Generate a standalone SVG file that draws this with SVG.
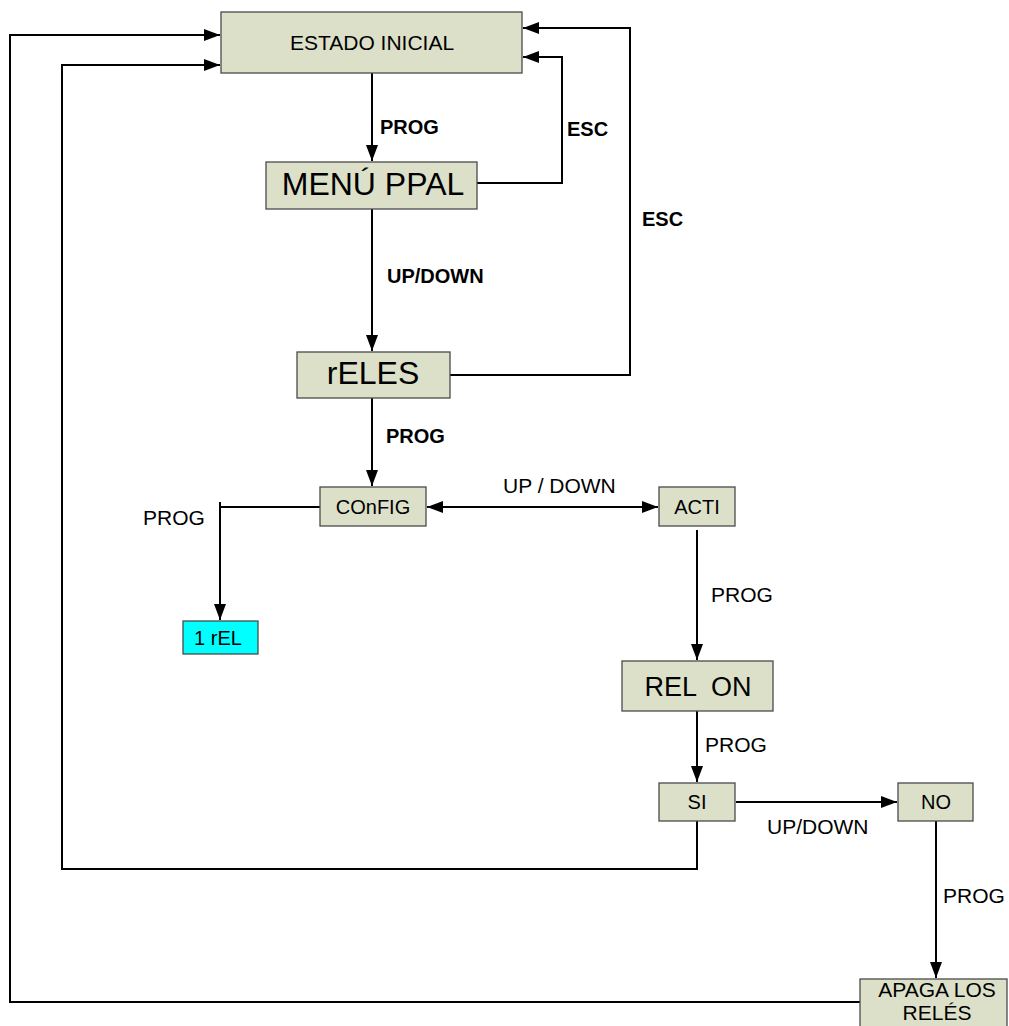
<svg xmlns="http://www.w3.org/2000/svg" width="1009" height="1026" viewBox="0 0 1009 1026">
<style>
.box{fill:#DDE0C9;stroke:#4a4a4a;stroke-width:1.3}
.t{font-family:"Liberation Sans",Arial,sans-serif;fill:#000;text-anchor:middle}
.lb{font-family:"Liberation Sans",Arial,sans-serif;font-weight:bold;font-size:20px;fill:#000}
.lr{font-family:"Liberation Sans",Arial,sans-serif;font-size:21px;fill:#000}
.c{fill:none;stroke:#000;stroke-width:2}
</style>
<defs>
<marker id="a" markerWidth="16" markerHeight="12" refX="16" refY="6" orient="auto" markerUnits="userSpaceOnUse">
<path d="M0,0 L16,6 L0,12 Z" fill="#000"/>
</marker>
<marker id="s" markerWidth="16" markerHeight="12" refX="0" refY="6" orient="auto" markerUnits="userSpaceOnUse">
<path d="M16,0 L0,6 L16,12 Z" fill="#000"/>
</marker>
</defs>
<rect width="1009" height="1026" fill="#fff"/>
<g id="connectors">
<path class="c" d="M860,1002 H10 V35 H220" marker-end="url(#a)"/>
<path class="c" d="M697,821 V869 H62 V65 H220" marker-end="url(#a)"/>
<path class="c" d="M372,73 V161" marker-end="url(#a)"/>
<path class="c" d="M477,183 H562 V57 H523" marker-end="url(#a)"/>
<path class="c" d="M450,375 H630 V28 H523" marker-end="url(#a)"/>
<path class="c" d="M372,209 V351" marker-end="url(#a)"/>
<path class="c" d="M372,398 V486" marker-end="url(#a)"/>
<path class="c" d="M320,507 H220"/>
<path class="c" d="M220,502 V620" marker-end="url(#a)"/>
<path class="c" d="M427,507 H658" marker-start="url(#s)" marker-end="url(#a)"/>
<path class="c" d="M697,530 V660" marker-end="url(#a)"/>
<path class="c" d="M697,711 V782" marker-end="url(#a)"/>
<path class="c" d="M736,802 H897" marker-end="url(#a)"/>
<path class="c" d="M936,821 V978" marker-end="url(#a)"/>
</g>
<g id="labels">
<text class="lb" x="380" y="134">PROG</text>
<text class="lb" x="567" y="136">ESC</text>
<text class="lb" x="642" y="226">ESC</text>
<text class="lb" x="387" y="283">UP/DOWN</text>
<text class="lb" x="386" y="443">PROG</text>
<text class="lr" x="143" y="525">PROG</text>
<text class="lr" x="503" y="493">UP / DOWN</text>
<text class="lr" x="711" y="602">PROG</text>
<text class="lr" x="705" y="752">PROG</text>
<text class="lr" x="767" y="834">UP/DOWN</text>
<text class="lr" x="943" y="903">PROG</text>
</g>
<g id="n-estado">
<rect class="box" x="221" y="12" width="301" height="61"/>
<text class="t" x="372" y="50" font-size="21">ESTADO INICIAL</text>
</g>
<g id="n-menu">
<rect class="box" x="266" y="162" width="211" height="47"/>
<text class="t" x="373" y="195" font-size="32">MENÚ PPAL</text>
</g>
<g id="n-reles">
<rect class="box" x="297" y="352" width="153" height="46"/>
<text class="t" x="373" y="384" font-size="32">rELES</text>
</g>
<g id="n-config">
<rect class="box" x="320" y="487" width="106" height="39"/>
<text class="t" x="373" y="514" font-size="20">COnFIG</text>
</g>
<g id="n-1rel">
<rect x="183" y="621" width="75" height="33" fill="#00FFFF" stroke="#4a4a4a" stroke-width="1.3"/>
<text class="t" x="218" y="645" font-size="20">1 rEL</text>
</g>
<g id="n-acti">
<rect class="box" x="659" y="487" width="76" height="39"/>
<text class="t" x="697" y="514" font-size="20">ACTI</text>
</g>
<g id="n-relon">
<rect class="box" x="622" y="661" width="151" height="50"/>
<text class="t" x="698" y="696" font-size="27" xml:space="preserve">REL  ON</text>
</g>
<g id="n-si">
<rect class="box" x="659" y="783" width="76" height="38"/>
<text class="t" x="697" y="809" font-size="20">SI</text>
</g>
<g id="n-no">
<rect class="box" x="898" y="783" width="75" height="38"/>
<text class="t" x="936" y="809" font-size="20">NO</text>
</g>
<g id="n-apaga">
<rect class="box" x="860" y="979" width="147" height="52"/>
<text class="t" x="937" y="997" font-size="21">APAGA LOS</text>
<text class="t" x="937" y="1020" font-size="21">RELÉS</text>
</g>
</svg>
